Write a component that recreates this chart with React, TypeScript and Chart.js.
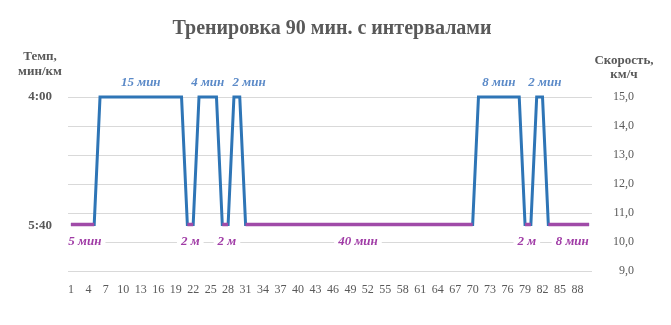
import React, { useEffect, useRef } from 'react';
import { Chart, registerables } from 'chart.js';

Chart.register(...registerables);

const TITLE = 'Тренировка 90 мин. с интервалами';
const LEFT_TITLE = ['Темп,', 'мин/км'];
const RIGHT_TITLE = ['Скорость,', 'км/ч'];

const categories = [
  '1','2','3','4','5','6','7','8','9','10','11','12','13','14','15','16','17','18','19','20',
  '21','22','23','24','25','26','27','28','29','30','31','32','33','34','35','36','37','38','39','40',
  '41','42','43','44','45','46','47','48','49','50','51','52','53','54','55','56','57','58','59','60',
  '61','62','63','64','65','66','67','68','69','70','71','72','73','74','75','76','77','78','79','80',
  '81','82','83','84','85','86','87','88','89','90',
];

// speed, km/h, for every minute (fast = 4:00 min/km, slow = 5:40 min/km)
const speedAll = [
  10.6,10.6,10.6,10.6,10.6,
  15,15,15,15,15,15,15,15,15,15,15,15,15,15,15,
  10.6,10.6,
  15,15,15,15,
  10.6,10.6,
  15,15,
  10.6,10.6,10.6,10.6,10.6,10.6,10.6,10.6,10.6,10.6,10.6,10.6,10.6,10.6,10.6,10.6,10.6,10.6,10.6,10.6,
  10.6,10.6,10.6,10.6,10.6,10.6,10.6,10.6,10.6,10.6,10.6,10.6,10.6,10.6,10.6,10.6,10.6,10.6,10.6,10.6,
  15,15,15,15,15,15,15,15,
  10.6,10.6,
  15,15,
  10.6,10.6,10.6,10.6,10.6,10.6,10.6,10.6,
];

const speedSlow = [
  10.6,10.6,10.6,10.6,10.6,
  null,null,null,null,null,null,null,null,null,null,null,null,null,null,null,
  10.6,10.6,
  null,null,null,null,
  10.6,10.6,
  null,null,
  10.6,10.6,10.6,10.6,10.6,10.6,10.6,10.6,10.6,10.6,10.6,10.6,10.6,10.6,10.6,10.6,10.6,10.6,10.6,10.6,
  10.6,10.6,10.6,10.6,10.6,10.6,10.6,10.6,10.6,10.6,10.6,10.6,10.6,10.6,10.6,10.6,10.6,10.6,10.6,10.6,
  null,null,null,null,null,null,null,null,
  10.6,10.6,
  null,null,
  10.6,10.6,10.6,10.6,10.6,10.6,10.6,10.6,
];

const leftTickValues = [15.0, 10.55];
const leftTickLabels = ['4:00', '5:40'];

const fastLabels = ['15 мин', '4 мин', '2 мин', '8 мин', '2 мин'];
const fastLabelMinute = [13, 24.5, 31.6, 74.5, 82.4];
const slowLabels = ['5 мин', '2 м', '2 м', '40 мин', '2 м', '8 мин'];
const slowLabelMinute = [3.4, 21.5, 27.8, 50.3, 79.3, 87.1];

const BLUE = '#2E75B6';
const PURPLE = '#A04BA8';
const BLUE_TEXT = '#5B8AC8';
const PURPLE_TEXT = '#A03CA6';
const GREY = '#595959';
const SERIF = '"Liberation Serif", "DejaVu Serif", serif';

const annotations = {
  id: 'annotations',
  afterDraw(chart: any) {
    const ctx = chart.ctx as CanvasRenderingContext2D;
    const x = chart.scales.x;
    const y = chart.scales.yR;
    ctx.save();
    // title
    ctx.fillStyle = GREY;
    ctx.textAlign = 'center';
    ctx.textBaseline = 'middle';
    ctx.font = `bold 20px ${SERIF}`;
    ctx.fillText(TITLE, 332, 29);
    // axis titles
    ctx.font = `bold 13px ${SERIF}`;
    ctx.fillText(LEFT_TITLE[0], 40, 57);
    ctx.fillText(LEFT_TITLE[1], 40, 72);
    ctx.fillText(RIGHT_TITLE[0], 624, 61);
    ctx.fillText(RIGHT_TITLE[1], 624, 75);
    // data labels
    ctx.font = `italic bold 13px ${SERIF}`;
    const yFast = y.getPixelForValue(15) - 14;
    fastLabels.forEach((t, i) => {
      const px = x.getPixelForValue(fastLabelMinute[i] - 1);
      ctx.fillStyle = BLUE_TEXT;
      ctx.fillText(t, px, yFast);
    });
    const ySlow = y.getPixelForValue(10.6) + 17;
    slowLabels.forEach((t, i) => {
      const px = x.getPixelForValue(slowLabelMinute[i] - 1);
      const w = ctx.measureText(t).width;
      ctx.fillStyle = '#ffffff';
      ctx.fillRect(px - w / 2 - 4, ySlow - 8, w + 8, 16);
      ctx.fillStyle = PURPLE_TEXT;
      ctx.fillText(t, px, ySlow);
    });
    ctx.restore();
  },
};

export default function App() {
  const ref = useRef<HTMLCanvasElement>(null);
  useEffect(() => {
    if (!ref.current) return;
    const chart = new Chart(ref.current, {
      type: 'line',
      data: {
        labels: categories,
        datasets: [
          {
            label: 'Медленно',
            data: speedSlow,
            yAxisID: 'yR',
            borderColor: PURPLE,
            backgroundColor: PURPLE,
            borderWidth: 3.5,
            pointRadius: 0,
            tension: 0,
            spanGaps: false,
            clip: false,
            borderCapStyle: 'butt',
          },
          {
            label: 'Быстро',
            data: speedAll,
            yAxisID: 'yR',
            borderColor: BLUE,
            backgroundColor: BLUE,
            borderWidth: 3,
            pointRadius: 0,
            tension: 0,
            clip: false,
            borderJoinStyle: 'miter',
          },
        ],
      },
      options: {
        responsive: false,
        animation: false,
        layout: { padding: { top: 97, left: 0, right: 37, bottom: 0 } },
        plugins: {
          legend: { display: false },
          tooltip: { enabled: false },
          title: { display: false },
        },
        scales: {
          x: {
            type: 'category',
            offset: true,
            grid: { display: false, drawTicks: false },
            border: { display: false },
            ticks: {
              autoSkip: false,
              maxRotation: 0,
              minRotation: 0,
              padding: 12,
              color: GREY,
              font: { family: SERIF, size: 12 },
              callback: (_v: any, i: number) => (i % 3 === 0 ? categories[i] : null),
            },
            afterFit: (s: any) => { s.height = 54; },
          },
          yL: {
            position: 'left',
            min: 9,
            max: 15,
            grid: { display: false, drawTicks: false },
            border: { display: false },
            afterBuildTicks: (s: any) => { s.ticks = leftTickValues.map((v) => ({ value: v })); },
            ticks: {
              padding: 16,
              color: GREY,
              font: { family: SERIF, size: 13, weight: 'bold' },
              callback: (_v: any, i: number) => leftTickLabels[i],
            },
            afterFit: (s: any) => { s.width = 68; },
          },
          yR: {
            position: 'right',
            min: 9,
            max: 15,
            grid: { color: '#D9D9D9', lineWidth: 1, drawTicks: false },
            border: { display: false },
            ticks: {
              stepSize: 1,
              crossAlign: 'far',
              padding: 0,
              color: GREY,
              font: { family: SERIF, size: 12 },
              callback: (v: any) => Number(v).toFixed(1).replace('.', ','),
            },
            afterFit: (s: any) => { s.width = 42; },
          },
        },
      },
      plugins: [annotations],
    } as any);
    return () => chart.destroy();
  }, []);
  return (
    <div style={{ position: 'absolute', left: 0, top: 0, width: 671, height: 325, background: '#fff' }}>
      <canvas ref={ref} width={671} height={325} />
    </div>
  );
}
